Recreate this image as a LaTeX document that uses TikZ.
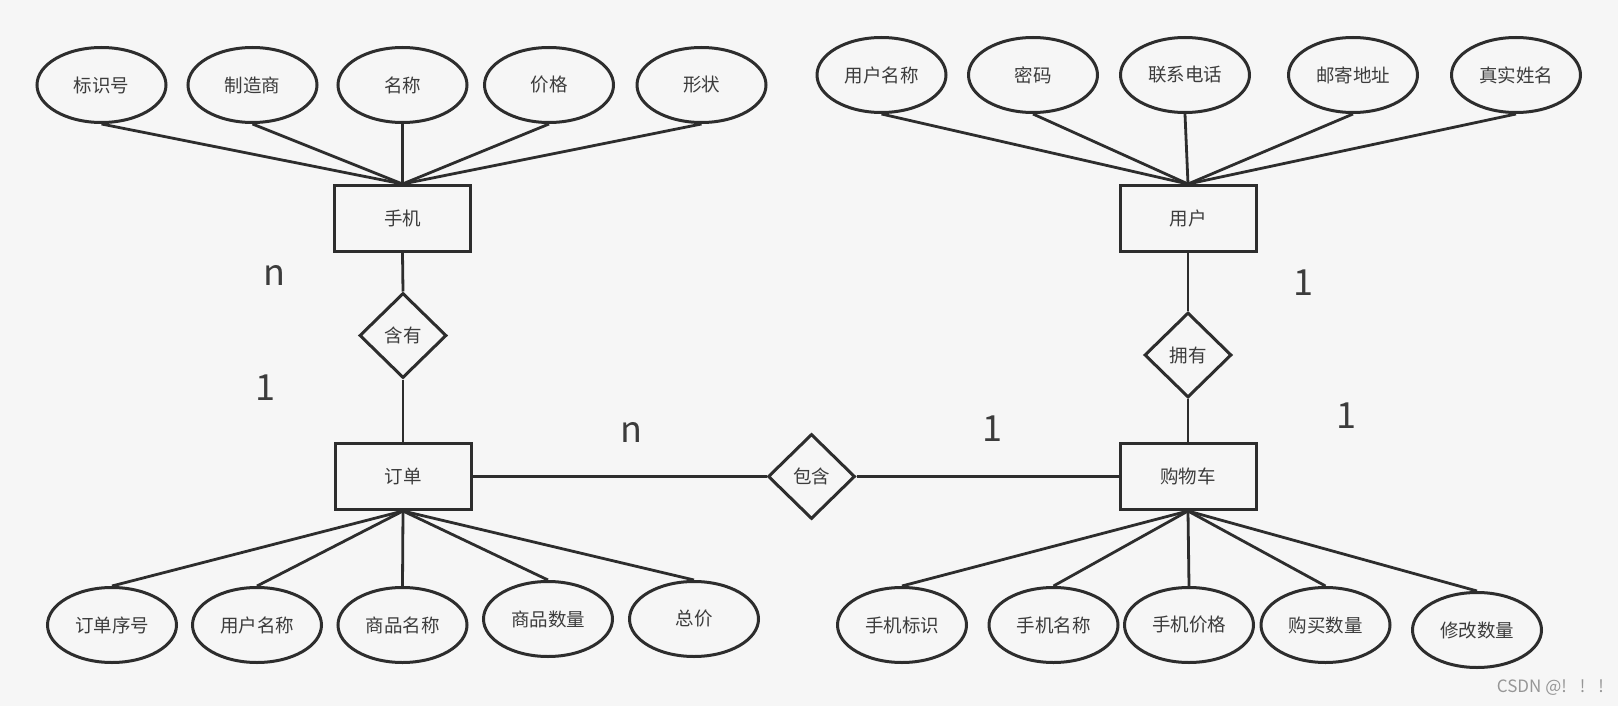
\documentclass[tikz,border=0pt]{standalone}
\usepackage{fontspec}
\newfontfamily\cjk{Noto Sans CJK SC}
\usetikzlibrary{shapes.geometric}
\definecolor{ln}{RGB}{45,45,45}
\definecolor{tx}{RGB}{60,60,60}
\definecolor{bg}{RGB}{246,246,246}
\definecolor{wm}{RGB}{150,150,150}
\begin{document}
\begin{tikzpicture}[x=1pt,y=-1pt,
  lbl/.style={font=\cjk\fontsize{18.5}{22}\selectfont, text=tx},
  attr/.style={lbl, ellipse, draw=ln, line width=3pt, minimum width=129pt, minimum height=75pt, inner sep=0pt},
  ent/.style={lbl, rectangle, draw=ln, line width=3pt, minimum width=136pt, minimum height=66pt, inner sep=0pt},
  rel/.style={lbl, diamond, draw=ln, line width=3pt, minimum width=87pt, minimum height=85pt, inner sep=0pt},
  card/.style={font=\cjk\fontsize{36}{40}\selectfont, text=tx, inner sep=0pt},
  conn/.style={draw=ln, line width=2.8pt}]
\fill[bg] (0,0) rectangle (1618,706);
\useasboundingbox (0,0) rectangle (1618,706);

% entities
\node[ent] (phone) at (402.5,218.5) {手机};
\node[ent] (user) at (1188,218.5) {用户};
\node[ent] (order) at (403,476.5) {订单};
\node[ent] (cart) at (1188,476.5) {购物车};

% relations
\node[rel] (hasA) at (403,335.5) {含有};
\node[rel] (own) at (1188,355) {拥有};
\node[rel] (incl) at (811.5,476.5) {包含};

% phone attributes
\node[attr] (p1) at (101.5,85) {标识号};
\node[attr] (p2) at (252.5,85) {制造商};
\node[attr] (p3) at (402.5,85) {名称};
\node[attr] (p4) at (549,85) {价格};
\node[attr] (p5) at (701.5,85) {形状};

% user attributes
\node[attr] (u1) at (881.5,75) {用户名称};
\node[attr] (u2) at (1033,75) {密码};
\node[attr] (u3) at (1185,75) {联系电话};
\node[attr] (u4) at (1353,75) {邮寄地址};
\node[attr] (u5) at (1516,75) {真实姓名};

% order attributes
\node[attr] (o1) at (112,625) {订单序号};
\node[attr] (o2) at (257,625) {用户名称};
\node[attr] (o3) at (402.5,625) {商品名称};
\node[attr] (o4) at (548,619) {商品数量};
\node[attr] (o5) at (694,619) {总价};

% cart attributes
\node[attr] (c1) at (902,625) {手机标识};
\node[attr] (c2) at (1053.5,625) {手机名称};
\node[attr] (c3) at (1189,625) {手机价格};
\node[attr] (c4) at (1325.5,625) {购买数量};
\node[attr] (c5) at (1477,630) {修改数量};

% connectors
\foreach \a in {p1,p2,p3,p4,p5} \draw[conn] (\a.south) -- (phone.north);
\foreach \a in {u1,u2,u3,u4,u5} \draw[conn] (\a.south) -- (user.north);
\foreach \a in {o1,o2,o3,o4,o5} \draw[conn] (order.south) -- (\a.north);
\foreach \a in {c1,c2,c3,c4,c5} \draw[conn] (cart.south) -- (\a.north);
\draw[conn] (phone.south) -- (hasA.north);
\draw[conn] (hasA.south) -- (order.north);
\draw[conn] (user.south) -- (own.north);
\draw[conn] (own.south) -- (cart.north);
\draw[conn] (order.east) -- (incl.west);
\draw[conn] (incl.east) -- (cart.west);

% cardinalities
\node[card] (k1) at (274,275) {n};
\node[card] (k2) at (265,388) {1};
\node[card] (k3) at (631,432) {n};
\node[card] (k4) at (992,429) {1};
\node[card] (k5) at (1303,283) {1};
\node[card] (k6) at (1346,416) {1};

% watermark
\node[font=\cjk\fontsize{17}{19}\selectfont, text=wm, anchor=east, inner sep=0pt] (wmk) at (1604,688) {CSDN @!\hspace{13pt}!\hspace{13pt}!};
\end{tikzpicture}
\end{document}
